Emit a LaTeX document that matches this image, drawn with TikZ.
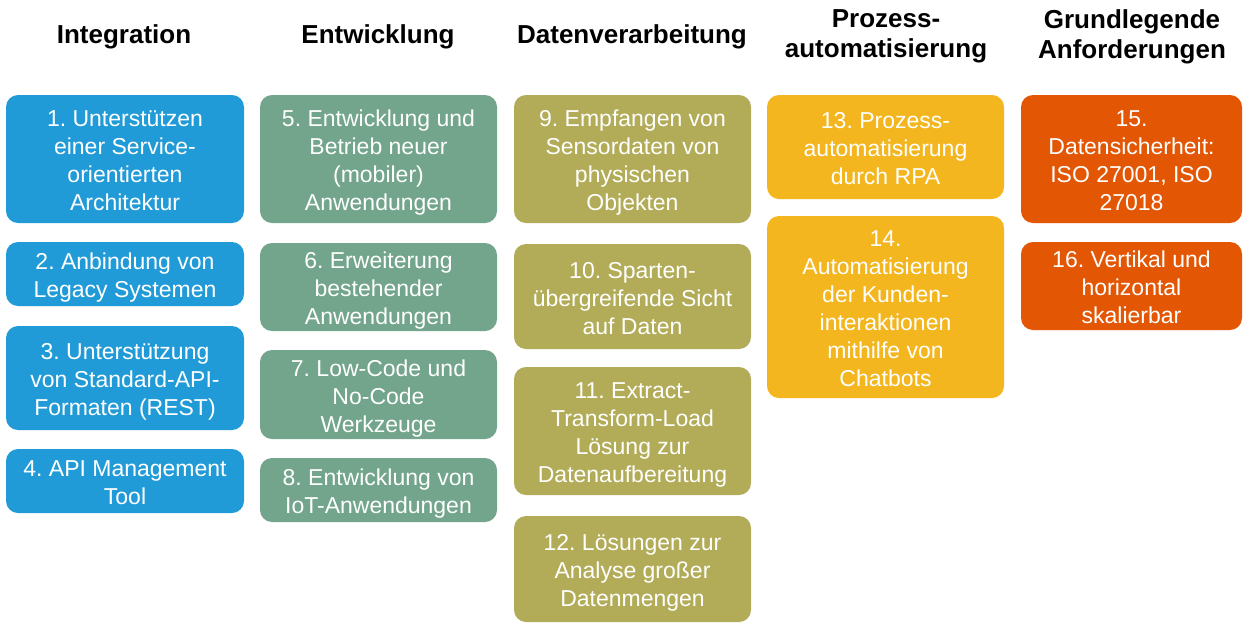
\documentclass[tikz,border=0pt]{standalone}
\usepackage{fontspec}
\setmainfont{Liberation Sans}
\definecolor{cblue}{RGB}{33,155,215}
\definecolor{cgreen}{RGB}{114,165,139}
\definecolor{colive}{RGB}{178,172,88}
\definecolor{cyellow}{RGB}{243,182,30}
\definecolor{corange}{RGB}{226,86,4}
\newcommand\ls{\rule{0pt}{24.4pt}}
\newcommand\lsend{\rule[-5pt]{0pt}{5pt}}
\begin{document}
\frenchspacing
\begin{tikzpicture}[x=1pt,y=-1pt,
  box/.style={rounded corners=12pt, inner sep=0pt, align=center, text=white,
    font=\fontsize{23}{28}\selectfont\frenchspacing},
  head/.style={font=\bfseries\fontsize{26}{30}\selectfont, align=center, inner sep=0pt},
  c1/.style={box, fill=cblue, minimum width=238pt},
  c2/.style={box, fill=cgreen, minimum width=237pt},
  c3/.style={box, fill=colive, minimum width=237pt},
  c4/.style={box, fill=cyellow, minimum width=237pt},
  c5/.style={box, fill=corange, minimum width=221pt}]
\useasboundingbox (0,0) rectangle (1253,630);
\fill[white] (0,0) rectangle (1253,630);
% headers
\node[head, anchor=base] (h1) at (124,43) {Integration};
\node[head, anchor=base] (h2) at (378,43) {Entwicklung};
\node[head, anchor=base] (h3) at (632,43) {Datenverarbeitung};
\node[head] (h4) at (886,36.5) {Prozess-\\automatisierung};
\node[head] (h5) at (1132,36.5) {Grundlegende\\Anforderungen};
% column 1
\node[c1, minimum height=128pt] (b1) at (125,159) {\ls 1. Unterstützen\\einer Service-\\orientierten\\Architektur\lsend};
\node[c1, minimum height=64pt] (b2) at (125,274) {\ls 2. Anbindung von\\Legacy Systemen\lsend};
\node[c1, minimum height=104pt] (b3) at (125,378) {\ls 3. Unterstützung\\von Standard-API-\\Formaten (REST)\lsend};
\node[c1, minimum height=64pt] (b4) at (125,481) {\ls 4. API Management\\Tool\lsend};
% column 2
\node[c2, minimum height=128pt] (b5) at (378.5,159) {\ls 5. Entwicklung und\\Betrieb neuer\\(mobiler)\\Anwendungen\lsend};
\node[c2, minimum height=88pt] (b6) at (378.5,287) {\ls 6. Erweiterung\\bestehender\\Anwendungen\lsend};
\node[c2, minimum height=89pt] (b7) at (378.5,394.5) {\ls 7. Low-Code und\\No-Code\\Werkzeuge\lsend};
\node[c2, minimum height=64pt] (b8) at (378.5,490) {\ls 8. Entwicklung von\\IoT-Anwendungen\lsend};
% column 3
\node[c3, minimum height=128pt] (b9) at (632.5,159) {\ls 9. Empfangen von\\Sensordaten von\\physischen\\Objekten\lsend};
\node[c3, minimum height=105pt] (b10) at (632.5,296.5) {\ls 10. Sparten-\\übergreifende Sicht\\auf Daten\lsend};
\node[c3, minimum height=128pt] (b11) at (632.5,431) {\ls 11. Extract-\\Transform-Load\\Lösung zur\\Datenaufbereitung\lsend};
\node[c3, minimum height=106pt] (b12) at (632.5,569) {\ls 12. Lösungen zur\\Analyse großer\\Datenmengen\lsend};
% column 4
\node[c4, minimum height=104pt] (b13) at (885.5,147) {\ls 13. Prozess-\\automatisierung\\durch RPA\lsend};
\node[c4, minimum height=182pt] (b14) at (885.5,307) {\ls 14.\\Automatisierung\\der Kunden-\\interaktionen\\mithilfe von\\Chatbots\lsend};
% column 5
\node[c5, minimum height=128pt] (b15) at (1131.5,159) {\ls 15.\\Datensicherheit:\\ISO 27001, ISO\\27018\lsend};
\node[c5, minimum height=88pt] (b16) at (1131.5,286) {\ls 16. Vertikal und\\horizontal\\skalierbar\lsend};
\end{tikzpicture}
\end{document}
